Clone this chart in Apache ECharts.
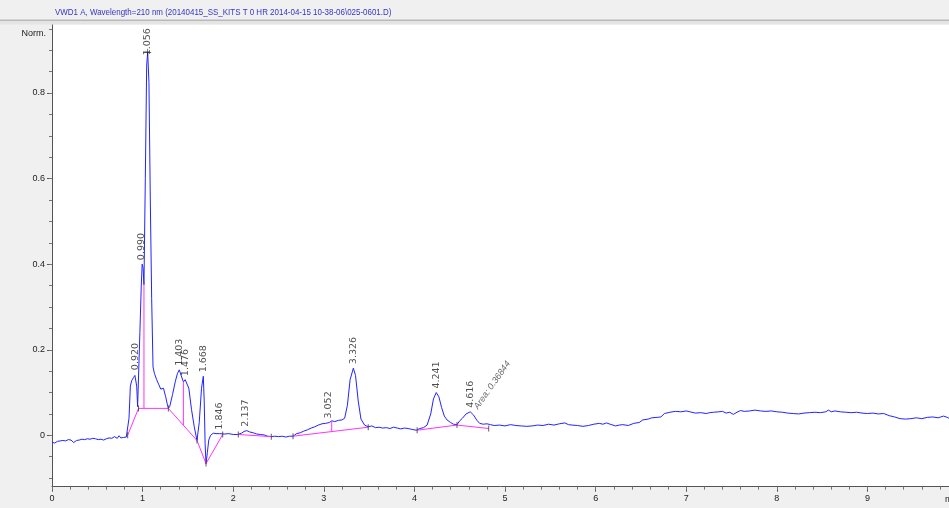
<!DOCTYPE html>
<html>
<head>
<meta charset="utf-8">
<script src="https://cdn.jsdelivr.net/npm/echarts@6/dist/echarts.min.js"></script>
<style>
  html, body { margin: 0; padding: 0; background: #f0f0f0; }
  #chart { width: 949px; height: 508px; }
</style>
</head>
<body>
<div id="chart"></div>
<script>
// Detector signal (VWD1 A, 210 nm): retention time in minutes and normalised response
const traceT = [
  0.00, 0.03, 0.06, 0.09, 0.12, 0.15, 0.18, 0.21, 0.24, 0.27, 0.30, 0.33, 0.36, 0.39, 0.42, 0.45,
  0.48, 0.51, 0.54, 0.57, 0.60, 0.63, 0.66, 0.69, 0.72, 0.74, 0.76, 0.79, 0.82, 0.835, 0.85, 0.865,
  0.88, 0.90, 0.915, 0.925, 0.935, 0.945, 0.955, 0.97, 0.985, 0.995, 1.005, 1.015, 1.03, 1.045, 1.056,
  1.07, 1.085, 1.10, 1.115, 1.13, 1.155, 1.18, 1.20, 1.23, 1.255, 1.27, 1.285, 1.30, 1.33, 1.36,
  1.385, 1.405, 1.425, 1.45, 1.47, 1.49, 1.51, 1.54, 1.57, 1.60, 1.625, 1.65, 1.67, 1.68, 1.69,
  1.70, 1.715, 1.73, 1.75, 1.78, 1.81, 1.85, 1.90, 1.95, 2.00, 2.05, 2.09, 2.12, 2.15, 2.18, 2.22,
  2.26, 2.30, 2.34, 2.38, 2.42, 2.46, 2.50, 2.54, 2.58, 2.62, 2.66, 2.70, 2.74, 2.78, 2.82, 2.86,
  2.90, 2.94, 2.98, 3.02, 3.06, 3.09, 3.12, 3.16, 3.20, 3.23, 3.26, 3.29, 3.326, 3.35, 3.38, 3.41,
  3.45, 3.49, 3.53, 3.57, 3.61, 3.65, 3.69, 3.73, 3.77, 3.81, 3.85, 3.89, 3.93, 3.97, 4.02, 4.06,
  4.10, 4.14, 4.18, 4.21, 4.241, 4.27, 4.30, 4.33, 4.36, 4.40, 4.43, 4.47, 4.50, 4.53, 4.57, 4.616,
  4.65, 4.69, 4.72, 4.76, 4.80, 4.84, 4.88, 4.94, 5.00, 5.06, 5.12, 5.18, 5.24, 5.30, 5.36, 5.42,
  5.48, 5.54, 5.60, 5.66, 5.70, 5.74, 5.80, 5.86, 5.92, 5.98, 6.04, 6.08, 6.12, 6.16, 6.22, 6.26,
  6.30, 6.36, 6.42, 6.48, 6.52, 6.58, 6.62, 6.68, 6.72, 6.76, 6.82, 6.88, 6.94, 7.00, 7.04, 7.10,
  7.16, 7.22, 7.26, 7.30, 7.36, 7.40, 7.44, 7.48, 7.52, 7.56, 7.60, 7.64, 7.70, 7.76, 7.82, 7.88,
  7.94, 8.00, 8.06, 8.12, 8.18, 8.24, 8.30, 8.36, 8.42, 8.48, 8.54, 8.57, 8.60, 8.64, 8.70, 8.76,
  8.82, 8.88, 8.94, 9.00, 9.06, 9.12, 9.18, 9.24, 9.30, 9.36, 9.42, 9.48, 9.54, 9.60, 9.66, 9.72,
  9.78, 9.84, 9.88, 9.90
];
const traceV = [
  -0.016, -0.018, -0.014, -0.013, -0.012, -0.013, -0.010, -0.011, -0.017, -0.012, -0.011, -0.009, -0.010, -0.008, -0.009, -0.007,
  -0.008, -0.010, -0.009, -0.011, -0.008, -0.006, -0.007, -0.003, -0.007, -0.001, -0.006, -0.005, -0.004, 0.000, 0.040, 0.115,
  0.128, 0.135, 0.140, 0.143, 0.115, 0.067, 0.070, 0.240, 0.347, 0.400, 0.392, 0.352, 0.600, 0.865, 0.895,
  0.825, 0.550, 0.320, 0.160, 0.145, 0.130, 0.118, 0.108, 0.110, 0.090, 0.075, 0.063, 0.068, 0.095, 0.125,
  0.145, 0.153, 0.140, 0.125, 0.130, 0.129, 0.110, 0.060, 0.020, -0.012, 0.030, 0.110, 0.138, 0.080, -0.020,
  -0.066, -0.040, -0.011, 0.000, 0.005, 0.004, 0.004, 0.003, 0.004, 0.002, 0.002, 0.005, 0.009, 0.011, 0.008, 0.006,
  0.003, 0.002, 0.001, -0.002, -0.003, -0.002, -0.003, -0.002, -0.004, -0.002, -0.002, 0.004, 0.006, 0.010, 0.013, 0.017,
  0.020, 0.024, 0.027, 0.028, 0.030, 0.034, 0.032, 0.035, 0.036, 0.040, 0.070, 0.130, 0.157, 0.140, 0.080, 0.038,
  0.024, 0.020, 0.022, 0.018, 0.019, 0.017, 0.018, 0.016, 0.019, 0.017, 0.015, 0.017, 0.016, 0.014, 0.012, 0.016,
  0.018, 0.024, 0.050, 0.085, 0.100, 0.090, 0.065, 0.045, 0.036, 0.030, 0.026, 0.025, 0.034, 0.040, 0.050, 0.055,
  0.048, 0.035, 0.028, 0.026, 0.027, 0.025, 0.023, 0.024, 0.022, 0.025, 0.023, 0.022, 0.021, 0.022, 0.024, 0.023,
  0.026, 0.024, 0.027, 0.029, 0.025, 0.024, 0.023, 0.021, 0.023, 0.026, 0.028, 0.026, 0.029, 0.026, 0.022, 0.024,
  0.025, 0.023, 0.028, 0.030, 0.036, 0.038, 0.041, 0.042, 0.043, 0.051, 0.054, 0.056, 0.055, 0.057, 0.055, 0.052,
  0.053, 0.051, 0.053, 0.054, 0.055, 0.056, 0.052, 0.054, 0.049, 0.054, 0.058, 0.056, 0.057, 0.059, 0.057, 0.056,
  0.057, 0.055, 0.054, 0.052, 0.051, 0.050, 0.052, 0.053, 0.054, 0.053, 0.055, 0.059, 0.055, 0.057, 0.055, 0.054,
  0.053, 0.054, 0.052, 0.051, 0.052, 0.050, 0.051, 0.046, 0.043, 0.039, 0.038, 0.039, 0.041, 0.039, 0.042, 0.043,
  0.041, 0.045, 0.042, 0.040
];

// Integration baselines (start/end of each peak group) and drop lines
const baselineSegments = [
  [[0.835, 0.000], [0.955, 0.063], [1.284, 0.063], [1.600, -0.012], [1.700, -0.066], [1.884, 0.002]],
  [[2.056, 0.002], [2.420, -0.003]],
  [[2.660, -0.002], [3.490, 0.019]],
  [[4.030, 0.012], [4.470, 0.024], [4.820, 0.016]],
  [[1.015, 0.063], [1.015, 0.352]],
  [[1.450, 0.024], [1.450, 0.125]],
  [[3.087, 0.009], [3.087, 0.034]]
];
// Baseline event markers
const eventT = [0.835, 0.955, 1.284, 1.600, 1.700, 1.884, 2.056, 2.420, 2.660, 3.490, 4.030, 4.470, 4.820];
const eventV = [0.000, 0.063, 0.063, -0.012, -0.066, 0.002, 0.002, -0.003, -0.002, 0.019, 0.012, 0.024, 0.016];

// Peak retention times and apex heights
const peakRT = [0.920, 0.990, 1.056, 1.403, 1.476, 1.668, 1.846, 2.137, 3.052, 3.326, 4.241, 4.616];
const peakH  = [0.143, 0.400, 0.895, 0.153, 0.129, 0.138, 0.004, 0.011, 0.030, 0.157, 0.100, 0.055];
const areaNote = { t: 4.68, v: 0.063, text: 'Area: 0.36844' };

// Axis ticks
const xLabels = [0, 1, 2, 3, 4, 5, 6, 7, 8, 9];
const yLabels = [0, 0.2, 0.4, 0.6, 0.8];
const xMinor = [];
for (let k = 0; k <= 49; k++) xMinor.push(+(k * 0.2).toFixed(2));
const yMinor = [];
for (let k = -2; k <= 19; k++) yMinor.push(+(k * 0.05).toFixed(2));

const X_MIN = 0, X_MAX = 9.9, Y_MIN = -0.12, Y_MAX = 0.96;

const chart = echarts.init(document.getElementById('chart'), null, { renderer: 'canvas' });

const baseFont = 'Liberation Sans, Arial, sans-serif';

const series = [
  {
    type: 'line',
    name: 'VWD1 A',
    data: traceT.map((t, i) => [t, traceV[i]]),
    showSymbol: false,
    lineStyle: { color: '#2323ff', width: 1 },
    z: 3
  }
];
baselineSegments.forEach(seg => {
  series.push({
    type: 'line',
    data: seg,
    showSymbol: false,
    lineStyle: { color: '#ff33ff', width: 1 },
    z: 4
  });
});
series.push({
  type: 'scatter',
  data: eventT.map((t, i) => [t, eventV[i]]),
  symbol: 'rect',
  symbolSize: [1, 6],
  itemStyle: { color: '#333' },
  z: 5
});
series.push({
  type: 'scatter',
  data: [[peakRT[2], peakH[2]]],
  symbol: 'path://M0,4.5h10v1h-10zM4.5,0h1v10h-1z',
  symbolSize: 7,
  itemStyle: { color: '#111' },
  z: 6
});
// Retention-time labels; the tallest peak's label sits on its apex marker
const TALLEST = 2;
series.push({
  type: 'scatter',
  data: peakRT.map((t, i) => (i === TALLEST
    ? { value: [t, peakH[i]], label: { distance: -3 } }
    : [t, peakH[i]])),
  symbolSize: 0,
  label: {
    show: true,
    formatter: p => p.value[0].toFixed(3),
    position: 'top',
    distance: 4,
    rotate: 90,
    align: 'left',
    verticalAlign: 'middle',
    fontFamily: 'DejaVu Sans, sans-serif',
    fontSize: 9.5,
    color: '#222'
  },
  z: 6
});
series.push({
  type: 'scatter',
  data: [[areaNote.t, areaNote.v]],
  symbolSize: 0,
  label: {
    show: true,
    formatter: areaNote.text,
    position: [0, 0],
    rotate: 55,
    align: 'left',
    verticalAlign: 'middle',
    fontFamily: baseFont,
    fontStyle: 'italic',
    fontSize: 9,
    color: '#444'
  },
  z: 6
});

const option = {
  animation: false,
  backgroundColor: '#f0f0f0',
  grid: {
    left: 52, top: 24.5, width: 897, height: 462.2,
    show: true, backgroundColor: '#ffffff', borderWidth: 0
  },
  xAxis: [
    {
      type: 'value', min: X_MIN, max: X_MAX, position: 'bottom',
      axisLine: { show: true, onZero: false, lineStyle: { color: '#555', width: 1 } },
      axisTick: { show: true, customValues: xLabels, length: 5, lineStyle: { color: '#555' } },
      axisLabel: { customValues: xLabels, fontSize: 9, color: '#222', margin: 7, fontFamily: baseFont },
      splitLine: { show: false }
    },
    {
      type: 'value', min: X_MIN, max: X_MAX, position: 'bottom',
      axisLine: { show: false, onZero: false },
      axisTick: { show: true, customValues: xMinor, length: 3, lineStyle: { color: '#777' } },
      axisLabel: { show: false },
      splitLine: { show: false }
    }
  ],
  yAxis: [
    {
      type: 'value', min: Y_MIN, max: Y_MAX, position: 'left',
      axisLine: { show: true, onZero: false, lineStyle: { color: '#555', width: 1 } },
      axisTick: { show: true, customValues: yLabels, length: 5, lineStyle: { color: '#555' } },
      axisLabel: {
        customValues: yLabels, fontSize: 9, color: '#222', margin: 7, fontFamily: baseFont,
        formatter: v => (v === 0 ? '0' : String(+v.toFixed(1)))
      },
      splitLine: { show: false }
    },
    {
      type: 'value', min: Y_MIN, max: Y_MAX, position: 'left',
      axisLine: { show: false, onZero: false },
      axisTick: { show: true, customValues: yMinor, length: 3, lineStyle: { color: '#777' } },
      axisLabel: { show: false },
      splitLine: { show: false }
    }
  ],
  series: series,
  graphic: [
    { type: 'rect', shape: { x: 0, y: 0, width: 949, height: 19.5 }, style: { fill: '#f0f0f0' }, z: 100 },
    { type: 'rect', shape: { x: 0, y: 19.5, width: 949, height: 1.5 }, style: { fill: '#b9b9b9' }, z: 100 },
    { type: 'rect', shape: { x: 0, y: 21, width: 949, height: 3.5 }, style: { fill: '#e4e4e4' }, z: 100 },
    {
      type: 'text', x: 55, y: 13, scaleX: 0.885, z: 101,
      style: {
        text: 'VWD1 A, Wavelength=210 nm (20140415_SS_KITS T 0 HR 2014-04-15 10-38-06\\025-0601.D)',
        font: '9px Liberation Sans, Arial, sans-serif',
        fill: '#3535c4', textVerticalAlign: 'middle', textAlign: 'left'
      }
    },
    {
      type: 'text', x: 46, y: 33.5, z: 101,
      style: { text: 'Norm.', font: '9px Liberation Sans, Arial, sans-serif', fill: '#222', textAlign: 'right', textVerticalAlign: 'middle' }
    },
    {
      type: 'text', x: 945, y: 500, z: 101,
      style: { text: 'min', font: '9px Liberation Sans, Arial, sans-serif', fill: '#222', textAlign: 'left', textVerticalAlign: 'middle' }
    }
  ]
};

chart.setOption(option);
</script>
</body>
</html>
